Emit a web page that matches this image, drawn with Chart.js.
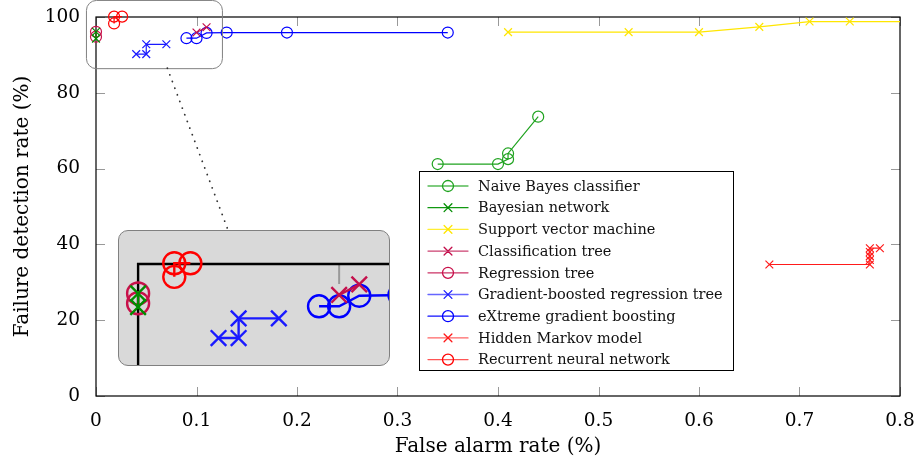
<!DOCTYPE html>
<html>
<head>
<meta charset="utf-8">
<script src="https://cdn.jsdelivr.net/npm/chart.js@4.4.1/dist/chart.umd.min.js"></script>
<style>
html,body{margin:0;padding:0;background:#fff}
#wrap{position:relative;width:916px;height:463px}
#main{position:absolute;left:0;top:0}
#inset{position:absolute;left:118px;top:230px;width:272px;height:136px;border:1px solid #808080;border-radius:10px;background:#d9d9d9;overflow:hidden;box-sizing:border-box}
#insetCanvas{position:absolute;left:0;top:0}
</style>
</head>
<body>
<div id="wrap">
<canvas id="main" width="916" height="463"></canvas>
<div id="inset"><canvas id="insetCanvas" width="270" height="134"></canvas></div>
</div>
<script>
// series labels
let names=["Naive Bayes classifier","Bayesian network","Support vector machine","Classification tree","Regression tree","Gradient-boosted regression tree","eXtreme gradient boosting","Hidden Markov model","Recurrent neural network"]

// values (false alarm rate, detection rate)
let nbX=[0.34,0.40,0.41,0.41,0.44]
let nbY=[61.2,61.2,62.5,64.0,73.7]
let bnX=[0,0]
let bnY=[94.3,96.1]
let svmX=[0.41,0.53,0.60,0.66,0.71,0.75,0.85]
let svmY=[96.0,96.0,96.0,97.4,98.8,98.8,98.8]
let ctX=[0.10,0.11]
let ctY=[95.9,97.3]
let rtX=[0,0]
let rtY=[94.8,96.1]
let gbX=[0.04,0.05,0.05,0.07]
let gbY=[90.2,90.2,92.8,92.8]
let xgX=[0.09,0.10,0.11,0.13,0.19,0.35]
let xgY=[94.4,94.4,95.8,95.9,95.9,95.9]
let hmmX=[0.67,0.77,0.77,0.77,0.77,0.77,0.78]
let hmmY=[34.7,34.7,35.9,36.9,38.0,39.0,39.0]
let rnnX=[0.018,0.018,0.026]
let rnnY=[98.3,100.1,100.1]

let xTicks=[0,0.1,0.2,0.3,0.4,0.5,0.6,0.7,0.8]
let yTicks=[0,20,40,60,80,100]

let colors=["#1fa31f","#008c00","#ffe600","#c4104c","#c8104a","#1a1aff","#0000ff","#ff1a1a","#ff0000"]
let legendLine=["#55bb55","#119911","#ffee33","#cc4070","#cc3366","#6666ff","#1111ff","#ff6666","#ff5555"]
let styles=["circle","crossRot","crossRot","crossRot","circle","crossRot","circle","crossRot","circle"]

let xsAll=[nbX,bnX,svmX,ctX,rtX,gbX,xgX,hmmX,rnnX]
let ysAll=[nbY,bnY,svmY,ctY,rtY,gbY,xgY,hmmY,rnnY]

// zoom window (data coords)
let zoomX=[-0.01,0.1253]
let zoomY=[86.5,104.5]

const pts=(xs,ys)=>xs.map((x,i)=>({x:x,y:ys[i]}))
const FONT="'DejaVu Serif', 'Liberation Serif', serif"

function makeSets(scale){
return names.map((n,i)=>({
label:n,
data:pts(xsAll[i],ysAll[i]),
showLine:true,
borderColor:colors[i],
backgroundColor:"rgba(0,0,0,0)",
pointBorderColor:colors[i],
pointBackgroundColor:"rgba(0,0,0,0)",
pointStyle:styles[i],
pointRadius:5.5*scale,
pointBorderWidth:1.2*scale,
borderWidth:1.2*scale,
tension:0,
clip:scale==1?(i==2?{left:8,top:8,right:0,bottom:8}:8):false
}))
}

/* main chart decorations */
const mainDeco={
id:"mainDeco",
beforeDatasetsDraw(chart){
const c=chart.ctx,a=chart.chartArea
const xs=chart.scales.x,ys=chart.scales.y
c.save()
c.strokeStyle="#999"
c.lineWidth=1
xTicks.forEach(t=>{
const px=Math.round(xs.getPixelForValue(t))+0.5
c.beginPath()
c.moveTo(px,a.bottom);c.lineTo(px,a.bottom-9)
c.moveTo(px,a.top);c.lineTo(px,a.top+9)
c.stroke()
})
yTicks.forEach(t=>{
const py=Math.round(ys.getPixelForValue(t))+0.5
c.beginPath()
c.moveTo(a.left,py);c.lineTo(a.left+9,py)
c.moveTo(a.right,py);c.lineTo(a.right-9,py)
c.stroke()
})
c.strokeStyle="#000"
c.lineWidth=1.2
c.strokeRect(a.left,a.top,a.right-a.left,a.bottom-a.top)
c.restore()
},
afterDatasetsDraw(chart){
const c=chart.ctx
const xs=chart.scales.x,ys=chart.scales.y
const x0=xs.getPixelForValue(zoomX[0]),x1=xs.getPixelForValue(zoomX[1])
const y0=ys.getPixelForValue(zoomY[1]),y1=ys.getPixelForValue(zoomY[0])
c.save()
c.strokeStyle="#808080"
c.lineWidth=1
c.beginPath()
c.roundRect(x0+0.5,y0+0.5,x1-x0,y1-y0,10)
c.stroke()
// connector to the inset
c.strokeStyle="#333"
c.lineWidth=1.8
c.lineCap="round"
c.setLineDash([0.1,7])
c.beginPath()
c.moveTo(xs.getPixelForValue(0.071),y1)
c.lineTo(118+110,230)
c.stroke()
c.setLineDash([])
// legend
const L=419,T=171,W=314,H=199
c.fillStyle="#fff"
c.fillRect(L,T,W,H)
c.strokeStyle="#000"
c.lineWidth=1
c.strokeRect(L+0.5,T+0.5,W,H)
c.font="14.5px "+FONT
c.textBaseline="middle"
names.forEach((n,i)=>{
const cy=T+15+i*21.7
c.strokeStyle=legendLine[i]
c.lineWidth=1.3
c.beginPath();c.moveTo(428,cy);c.lineTo(468,cy);c.stroke()
c.strokeStyle=colors[i]
c.beginPath()
if(styles[i]=="circle"){c.arc(448,cy,5.5,0,Math.PI*2)}
else{const r=3.9;c.moveTo(448-r,cy-r);c.lineTo(448+r,cy+r);c.moveTo(448-r,cy+r);c.lineTo(448+r,cy-r)}
c.stroke()
c.fillStyle="#111"
c.fillText(n,478,cy+1)
})
c.restore()
}
}

new Chart(document.getElementById("main"),{
type:"scatter",
data:{datasets:makeSets(1)},
options:{
responsive:false,
animation:false,
devicePixelRatio:1,
layout:{autoPadding:false,padding:{top:17,right:16,left:0,bottom:0}},
plugins:{legend:{display:false},tooltip:{enabled:false}},
scales:{
x:{
type:"linear",min:0,max:0.8,
afterFit:s=>{s.height=67;s.paddingLeft=0;s.paddingRight=0},
afterBuildTicks:s=>{s.ticks=xTicks.map(v=>({value:v}))},
grid:{display:false},
border:{display:false},
ticks:{color:"#000",padding:6,maxRotation:0,font:{family:FONT,size:18.5},callback:v=>String(+v.toFixed(1))},
title:{display:true,text:"False alarm rate (%)",color:"#000",font:{family:FONT,size:20},padding:{top:0,bottom:4}}
},
y:{
type:"linear",min:0,max:100,
afterFit:s=>{s.width=96;s.paddingTop=0;s.paddingBottom=0},
afterBuildTicks:s=>{s.ticks=yTicks.map(v=>({value:v}))},
grid:{display:false},
border:{display:false},
ticks:{color:"#000",padding:8,font:{family:FONT,size:18.5}},
title:{display:true,text:"Failure detection rate (%)",color:"#000",font:{family:FONT,size:20},padding:{top:11,bottom:0}}
}
}
},
plugins:[mainDeco]
})

/* inset chart: magnified copy of the zoom window */
const insetDeco={
id:"insetDeco",
beforeDatasetsDraw(chart){
const c=chart.ctx,a=chart.chartArea
const xs=chart.scales.x,ys=chart.scales.y
const px0=xs.getPixelForValue(0),py100=ys.getPixelForValue(100)
c.save()
c.strokeStyle="#999"
c.lineWidth=2
const pt=xs.getPixelForValue(0.1)
c.beginPath();c.moveTo(pt,py100);c.lineTo(pt,py100+20);c.stroke()
c.strokeStyle="#000"
c.lineWidth=2.4
c.beginPath()
c.moveTo(px0,a.bottom+2);c.lineTo(px0,py100);c.lineTo(a.right+2,py100)
c.stroke()
c.restore()
}
}

new Chart(document.getElementById("insetCanvas"),{
type:"scatter",
data:{datasets:makeSets(2)},
options:{
responsive:false,
animation:false,
devicePixelRatio:1,
layout:{autoPadding:false,padding:0},
plugins:{legend:{display:false},tooltip:{enabled:false}},
scales:{
x:{type:"linear",display:false,min:zoomX[0]+0.0005,max:zoomX[1]-0.0005},
y:{type:"linear",display:false,min:zoomY[0]+0.13,max:zoomY[1]-0.13}
}
},
plugins:[insetDeco]
})
</script>
</body>
</html>
